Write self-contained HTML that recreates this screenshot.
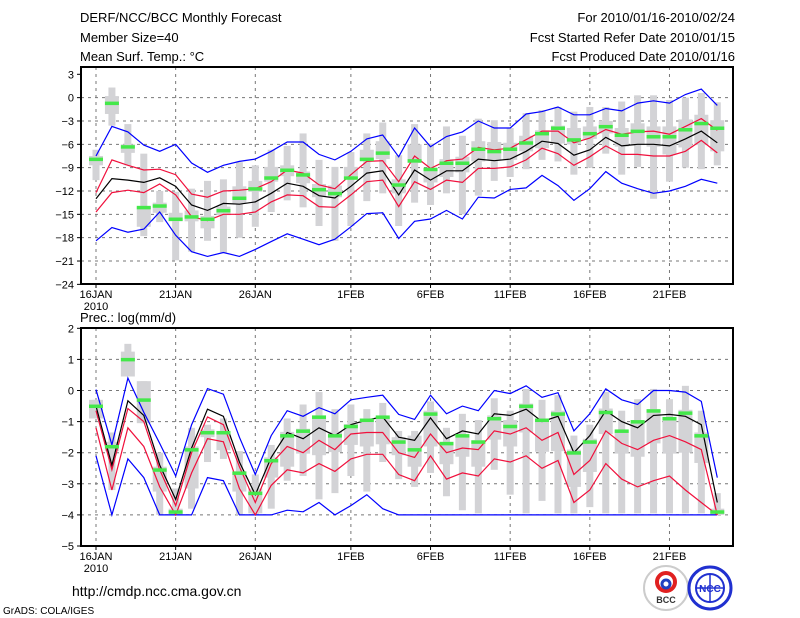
<!DOCTYPE html>
<html><head><meta charset="utf-8"><style>
html,body{margin:0;padding:0;background:#fff;}
svg{display:block;font-family:"Liberation Sans",sans-serif;}
</style></head><body>
<svg id="c" width="800" height="618" viewBox="0 0 800 618">
<g font-size="13" fill="#000">
<text x="80" y="22">DERF/NCC/BCC Monthly Forecast</text>
<text x="80" y="42">Member Size=40</text>
<text x="80" y="61">Mean Surf. Temp.: °C</text>
<text x="735" y="22" text-anchor="end">For 2010/01/16-2010/02/24</text>
<text x="735" y="42" text-anchor="end">Fcst Started Refer Date 2010/01/15</text>
<text x="735" y="61" text-anchor="end">Fcst Produced Date 2010/01/16</text>
<text x="80" y="322">Prec.: log(mm/d)</text>
<text x="72" y="596" font-size="14">http://cmdp.ncc.cma.gov.cn</text>
<text x="3" y="614" font-size="10">GrADS: COLA/IGES</text>
</g>
<g>
<circle cx="666" cy="588" r="22" fill="#fff" stroke="#ccc" stroke-width="2"/>
<circle cx="666" cy="582" r="9" fill="none" stroke="#e02020" stroke-width="4"/>
<circle cx="666" cy="584" r="4" fill="none" stroke="#2040c0" stroke-width="3"/>
<text x="666" y="603" font-size="9" text-anchor="middle" font-weight="bold" fill="#333">BCC</text>
</g>
<g>
<circle cx="710" cy="588" r="21" fill="#fff" stroke="#2030d0" stroke-width="3"/>
<ellipse cx="710" cy="588" rx="14" ry="14" fill="none" stroke="#2030d0" stroke-width="2"/>
<line x1="696" y1="588" x2="724" y2="588" stroke="#2030d0" stroke-width="1.5"/>
<line x1="710" y1="574" x2="710" y2="602" stroke="#2030d0" stroke-width="1.5"/>
<text x="710" y="592" font-size="10" text-anchor="middle" font-weight="bold" fill="#2030d0">NCC</text>
</g>
</svg>
<script>
// Temperature panel data (°C), days 16JAN..24FEB
const tBlueTop=[-7.5,-3.7,-4.4,-6.1,-6.9,-6.0,-8.4,-9.6,-8.7,-8.2,-7.9,-6.9,-5.7,-5.7,-7.3,-8.0,-6.9,-5.3,-4.8,-7.6,-3.9,-6.3,-5.0,-4.4,-3.0,-3.9,-3.9,-2.1,-1.8,-1.2,-2.2,-2.2,-1.4,-1.7,-0.7,-0.4,-0.7,0.4,1.1,-1.0];
const tRedTop=[-12.2,-8.0,-8.7,-9.3,-9.2,-9.9,-12.4,-12.8,-12.0,-11.9,-11.7,-10.8,-9.3,-9.7,-11.2,-11.7,-9.9,-8.2,-8.1,-10.8,-7.5,-9.1,-8.1,-7.9,-6.4,-6.7,-6.5,-5.4,-4.3,-4.3,-5.8,-5.2,-4.1,-4.7,-4.4,-4.3,-4.7,-3.7,-2.7,-4.2];
const tMean=[-13.0,-10.4,-10.6,-10.9,-10.3,-11.4,-13.8,-14.5,-13.6,-13.7,-13.4,-12.3,-11.0,-11.4,-12.6,-12.9,-11.4,-9.7,-9.4,-12.5,-9.3,-10.6,-9.4,-9.4,-7.9,-8.1,-7.9,-6.9,-5.6,-5.9,-7.4,-6.7,-5.1,-6.2,-6.0,-6.0,-6.2,-5.3,-4.3,-5.8];
const tRedBot=[-14.7,-12.2,-11.9,-12.2,-11.1,-12.5,-15.3,-15.8,-15.0,-15.0,-14.7,-13.4,-12.5,-12.6,-14.0,-14.1,-12.5,-10.8,-10.6,-14.0,-10.8,-11.8,-10.6,-10.9,-9.1,-9.1,-8.9,-8.0,-6.5,-7.2,-8.7,-7.6,-6.2,-7.3,-7.3,-7.5,-7.5,-6.9,-5.5,-7.1];
const tBlueBot=[-18.4,-16.7,-17.3,-16.9,-14.7,-17.7,-19.8,-20.4,-19.9,-20.4,-19.5,-18.5,-17.5,-18.2,-18.9,-18.2,-16.6,-14.9,-14.8,-18.1,-15.9,-15.6,-14.5,-15.6,-12.8,-12.9,-11.8,-11.6,-10.0,-11.3,-13.2,-11.7,-9.5,-11.0,-11.7,-12.3,-12.0,-11.4,-10.5,-11.0];
const tObs=[-7.9,-0.7,-6.3,-14.1,-13.9,-15.6,-15.3,-15.6,-14.5,-12.9,-11.7,-10.3,-9.3,-9.9,-11.8,-12.3,-10.3,-7.9,-7.1,-11.2,-8.1,-9.2,-8.4,-8.4,-6.6,-6.9,-6.6,-5.8,-4.6,-3.9,-5.4,-4.6,-3.7,-4.8,-4.3,-5.0,-5.0,-4.1,-3.3,-3.9];
const tRangeHi=[-6.7,1.3,-3.4,-7.2,-12.0,-12.1,-11.7,-10.7,-10.5,-8.3,-8.7,-6.7,-6.2,-4.6,-8.0,-8.9,-7.0,-4.6,-3.2,-7.4,-3.4,-5.9,-3.7,-4.9,-2.7,-2.9,-3.9,-2.0,-1.6,-1.2,-1.8,-1.2,-1.2,-0.5,0.3,0.3,-0.3,0.0,0.6,-0.6];
const tRangeLo=[-10.6,-3.6,-8.7,-17.8,-16.0,-20.9,-19.8,-18.4,-19.9,-18.0,-16.6,-14.7,-13.2,-14.1,-16.5,-18.4,-16.5,-13.3,-12.3,-16.5,-13.5,-13.8,-12.3,-15.0,-12.6,-10.7,-10.2,-9.2,-8.0,-8.2,-9.9,-9.0,-7.2,-9.9,-8.9,-13.0,-10.8,-9.0,-9.2,-8.7];
const tBoxHi=[-7.5,0.2,-6.0,-14.0,-13.5,-14.8,-14.5,-15.2,-14.0,-11.4,-10.7,-8.9,-8.7,-9.5,-11.1,-11.3,-8.9,-6.7,-5.6,-10.5,-6.0,-9.2,-7.9,-7.6,-5.6,-5.7,-5.8,-4.9,-4.2,-3.6,-3.9,-3.7,-3.0,-3.9,-3.3,-3.7,-3.7,-2.8,-2.2,-2.9];
const tBoxLo=[-8.7,-2.1,-7.1,-16.6,-14.8,-15.9,-15.9,-16.8,-15.1,-13.6,-12.1,-10.8,-10.1,-11.0,-12.8,-12.8,-10.1,-8.2,-7.9,-12.3,-8.4,-10.9,-10.2,-9.6,-8.2,-8.0,-8.0,-6.9,-6.5,-5.9,-6.0,-5.3,-4.6,-6.3,-6.1,-6.3,-7.3,-6.4,-6.1,-6.9];
// Precipitation panel data log(mm/d)
const pBlueTop=[0.03,-1.75,0.4,-0.7,-1.7,-2.75,-1.1,0.06,-0.12,-1.5,-2.7,-1.45,-0.65,-0.83,-0.55,-0.75,-0.3,-0.22,-0.15,-0.77,-0.93,-0.15,-0.75,-0.5,-0.65,0.0,-0.1,0.15,-0.22,-0.07,-1.3,-0.75,0.05,-0.3,-0.45,0.0,0.0,-0.05,-0.35,-2.8];
const pRedTop=[-0.65,-2.55,-0.58,-1.0,-2.55,-3.7,-2.0,-0.85,-1.1,-2.45,-3.6,-2.35,-1.8,-2.0,-1.6,-1.9,-1.4,-1.35,-1.35,-2.0,-2.15,-1.4,-2.0,-1.85,-1.9,-1.3,-1.4,-1.2,-1.6,-1.35,-2.7,-2.25,-1.3,-1.7,-1.9,-1.6,-1.45,-1.65,-1.9,-4.0];
const pMean=[-0.5,-2.4,-0.33,-0.8,-2.4,-3.5,-1.85,-0.6,-0.83,-2.3,-3.35,-2.15,-1.35,-1.55,-1.2,-1.45,-1.1,-0.95,-0.85,-1.5,-1.6,-0.88,-1.55,-1.3,-1.4,-0.75,-0.8,-0.6,-1.0,-0.83,-2.0,-1.45,-0.65,-1.0,-1.2,-0.8,-0.77,-0.83,-1.1,-3.6];
const pRedBot=[-1.2,-3.2,-1.2,-1.8,-3.1,-4.0,-2.65,-1.55,-1.65,-3.15,-4.0,-3.05,-2.55,-2.65,-2.35,-2.6,-2.2,-2.05,-2.05,-2.7,-2.9,-2.1,-2.85,-2.65,-2.75,-2.2,-2.3,-2.1,-2.5,-2.25,-3.6,-3.2,-2.35,-2.85,-3.1,-2.9,-2.75,-3.2,-3.6,-4.0];
const pBlueBot=[-2.1,-4.0,-2.2,-2.8,-4.0,-4.0,-4.0,-2.8,-2.9,-4.0,-4.0,-4.0,-3.85,-3.9,-3.6,-4.0,-3.7,-3.35,-3.8,-4.0,-4.0,-4.0,-4.0,-4.0,-4.0,-4.0,-4.0,-4.0,-4.0,-4.0,-4.0,-4.0,-4.0,-4.0,-4.0,-4.0,-4.0,-4.0,-4.0,-4.0];
const pObs=[-0.5,-1.8,1.0,-0.3,-2.55,-3.9,-1.9,-1.35,-1.35,-2.65,-3.3,-2.25,-1.45,-1.3,-0.85,-1.45,-1.15,-0.95,-0.85,-1.65,-1.9,-0.75,-1.7,-1.45,-1.65,-0.9,-1.15,-0.5,-0.95,-0.75,-2.0,-1.65,-0.7,-1.3,-1.0,-0.65,-0.9,-0.72,-1.45,-3.9];
const pRangeHi=[-0.3,-1.35,1.5,0.3,-2.0,-3.15,-1.2,-1.1,-0.9,-1.95,-2.7,-1.75,-0.9,-0.45,-0.05,-0.6,-0.45,-0.6,-0.4,-1.3,-1.3,-0.35,-1.2,-0.75,-0.95,-0.25,-0.65,0.05,-0.3,-0.15,-1.45,-1.1,-0.05,-0.65,-0.28,0.05,-0.28,0.15,-0.65,-3.3];
const pRangeLo=[-0.9,-3.2,0.45,-1.05,-4.0,-4.0,-3.8,-2.3,-2.2,-4.0,-4.0,-3.8,-2.9,-2.75,-3.5,-3.3,-2.75,-3.25,-2.3,-2.85,-3.1,-2.65,-3.4,-3.85,-3.95,-2.55,-3.35,-3.95,-3.55,-3.95,-3.95,-3.75,-3.95,-3.95,-3.95,-3.95,-3.95,-3.95,-3.95,-4.0];
const pBoxHi=[-0.3,-1.65,1.25,0.3,-2.45,-3.8,-1.8,-1.25,-1.3,-2.6,-3.15,-2.15,-1.33,-1.23,-0.8,-1.33,-1.08,-0.9,-0.85,-1.5,-1.45,-0.65,-1.65,-1.45,-1.6,-0.8,-0.95,-0.42,-0.9,-0.65,-1.9,-1.55,-0.58,-1.28,-0.95,-0.6,-0.85,-0.62,-1.35,-3.8];
const pBoxLo=[-0.9,-1.95,0.45,-1.05,-3.25,-4.0,-3.15,-1.5,-1.92,-3.25,-3.95,-2.8,-2.45,-2.03,-2.08,-1.98,-1.75,-1.8,-1.73,-2.08,-2.45,-1.8,-2.37,-2.13,-2.45,-1.58,-1.8,-1.35,-1.97,-1.95,-3.1,-2.62,-1.4,-2.03,-2.13,-1.7,-2.03,-2.0,-2.33,-4.0];
const xTickDays=[0,5,10,16,21,26,31,36];
const xTickLabels=["16JAN","21JAN","26JAN","1FEB","6FEB","11FEB","16FEB","21FEB"];
const tTicks=[3,0,-3,-6,-9,-12,-15,-18,-21,-24];
const pTicks=[2,1,0,-1,-2,-3,-4,-5];

const NS="http://www.w3.org/2000/svg";
const svg=document.getElementById('c');
function mk(tag,attrs,parent){const e=document.createElementNS(NS,tag);for(const k in attrs)e.setAttribute(k,attrs[k]);(parent||svg).appendChild(e);return e;}
const xScale=d=>96+d*15.93;
function panel(cfg){
  const g=mk('g',{});
  
  
  const y=v=>cfg.y0+(cfg.v0-v)*cfg.k;
  const L=81,R=733;
  // gridlines
  cfg.ticks.forEach(t=>{
    const yy=y(t);
    if(t<cfg.v0&&t>cfg.ticks[cfg.ticks.length-1]){const gl=mk('line',{x1:L,x2:R,y1:yy,y2:yy,stroke:'#777','stroke-dasharray':'3,4','stroke-width':1},g);
    
    }
    const tk=mk('line',{x1:L-4,x2:L,y1:yy,y2:yy,stroke:'#000'},g);
    
    
    const tl=mk('text',{x:L-7,y:yy+4,'text-anchor':'end','font-size':11},g);
    tl.textContent=(t<0?'\u2212'+(-t):String(t));
    
    
  });
  xTickDays.forEach((d,i)=>{
    const xx=xScale(d);
    const gl=mk('line',{x1:xx,x2:xx,y1:cfg.top,y2:cfg.bot,stroke:'#777','stroke-dasharray':'3,4'},g);
    
    
    const tk=mk('line',{x1:xx,x2:xx,y1:cfg.bot,y2:cfg.bot+4,stroke:'#000'},g);
    
    
    const tl=mk('text',{x:xx,y:cfg.bot+14,'text-anchor':'middle','font-size':11},g);
    tl.textContent=xTickLabels[i];
    
    
  });
  const yr=mk('text',{x:xScale(0),y:cfg.bot+26,'text-anchor':'middle','font-size':11},g);
  yr.textContent='2010';
  
  
  // bars
  for(let i=0;i<cfg.obs.length;i++){
    const xx=xScale(i);
    const r1=mk('rect',{x:xx-3.5,y:y(cfg.rHi[i]),width:7,height:Math.max(1,y(cfg.rLo[i])-y(cfg.rHi[i])),fill:'#d3d3d6'},g);
    
    
    const r2=mk('rect',{x:xx-7,y:y(cfg.bHi[i]),width:14,height:Math.max(1,y(cfg.bLo[i])-y(cfg.bHi[i])),fill:'#d3d3d6'},g);
    
    
  }
  const series=[[cfg.bt,'#0000ff','max-line'],[cfg.bb,'#0000ff','min-line'],[cfg.rt,'#f0103c','upper-std-line'],[cfg.rb,'#f0103c','lower-std-line'],[cfg.m,'#000','ensemble-mean-line']];
  series.forEach(s=>{
    const pts=s[0].map((v,i)=>xScale(i).toFixed(1)+','+y(v).toFixed(1)).join(' ');
    const pl=mk('polyline',{points:pts,fill:'none',stroke:s[1],'stroke-width':1.2},g);
    
    
  });
  cfg.obs.forEach((v,i)=>{
    const r=mk('rect',{x:xScale(i)-7,y:y(v)-1.5,width:14,height:3.5,fill:'#44e84a'},g);
    
    
  });
  const fr=mk('rect',{x:L,y:cfg.top,width:R-L,height:cfg.bot-cfg.top,fill:'none',stroke:'#000','stroke-width':2},g);
  
  
}
panel({name:'temperature-panel',y0:74.3,v0:3,k:7.78,top:67,bot:284,ticks:tTicks,bt:tBlueTop,bb:tBlueBot,rt:tRedTop,rb:tRedBot,m:tMean,obs:tObs,rHi:tRangeHi,rLo:tRangeLo,bHi:tBoxHi,bLo:tBoxLo});
panel({name:'precipitation-panel',y0:328.3,v0:2,k:31.1,top:328,bot:546,ticks:pTicks,bt:pBlueTop,bb:pBlueBot,rt:pRedTop,rb:pRedBot,m:pMean,obs:pObs,rHi:pRangeHi,rLo:pRangeLo,bHi:pBoxHi,bLo:pBoxLo});
</script>
</body></html>
